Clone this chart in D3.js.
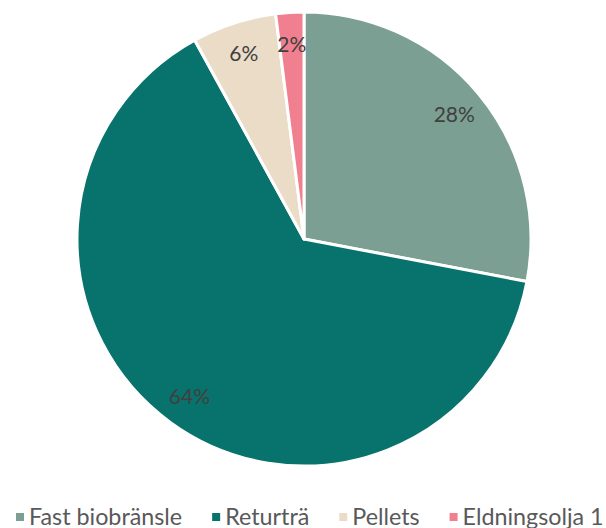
<!DOCTYPE html>
<meta charset="utf-8">
<style>
  body { margin: 0; background: #fff; }
  .label { font-family: Lato, "Open Sans", sans-serif; fill: #404040; }
  .legend text { font-family: Lato, "Open Sans", sans-serif; fill: #595959; }
</style>
<svg width="606" height="528"></svg>
<script src="https://cdn.jsdelivr.net/npm/d3@7"></script>
<script>
  var categories = ["Fast biobränsle", "Returträ", "Pellets", "Eldningsolja 1"];
  var values = [28, 64, 6, 2];
  var colors = ["#7b9f92", "#08736c", "#ebdcc8", "#f07f8f"];

  var svg = d3.select("svg"),
      cx = 304, cy = 239,
      radius = 227;

  var data = categories.map(function(c, i) { return {name: c, value: values[i], color: colors[i]}; });

  var pie = d3.pie().sort(null).value(function(d) { return d.value; });
  var arc = d3.arc().innerRadius(0).outerRadius(radius);
  var labelArc = d3.arc().innerRadius(195).outerRadius(195);

  var g = svg.append("g").attr("transform", "translate(" + cx + "," + cy + ")");

  g.selectAll("path")
    .data(pie(data))
    .enter().append("path")
      .attr("d", arc)
      .attr("fill", function(d) { return d.data.color; })
      .attr("stroke", "#fff")
      .attr("stroke-width", 3)
      .attr("stroke-linejoin", "round");

  g.selectAll("text.label")
    .data(pie(data))
    .enter().append("text")
      .attr("class", "label")
      .attr("transform", function(d) { return "translate(" + labelArc.centroid(d) + ")"; })
      .attr("text-anchor", "middle")
      .attr("dy", "0.35em")
      .style("font-size", "21px")
      .text(function(d) { return d.data.value + "%"; });

  // legend along the bottom: font sized so the whole row runs from x=16 to the right edge
  var legend = svg.append("g").attr("class", "legend");
  var gap = 30, markerOff = 13;
  var textW = 0;
  categories.forEach(function(c) {
    var p = legend.append("text").style("font-size", "20px").text(c);
    textW += p.node().getComputedTextLength();
    p.remove();
  });
  var avail = 604 - 16 - categories.length * markerOff - (categories.length - 1) * gap;
  var fs = Math.min(24, 20 * avail / textW);

  var x = 16;
  data.forEach(function(d) {
    legend.append("rect")
      .attr("x", x).attr("y", 513)
      .attr("width", 8).attr("height", 8)
      .attr("fill", d.color);
    var t = legend.append("text")
      .attr("x", x + markerOff).attr("y", 525)
      .style("font-size", fs + "px")
      .text(d.name);
    x += markerOff + t.node().getComputedTextLength() + gap;
  });
</script>
